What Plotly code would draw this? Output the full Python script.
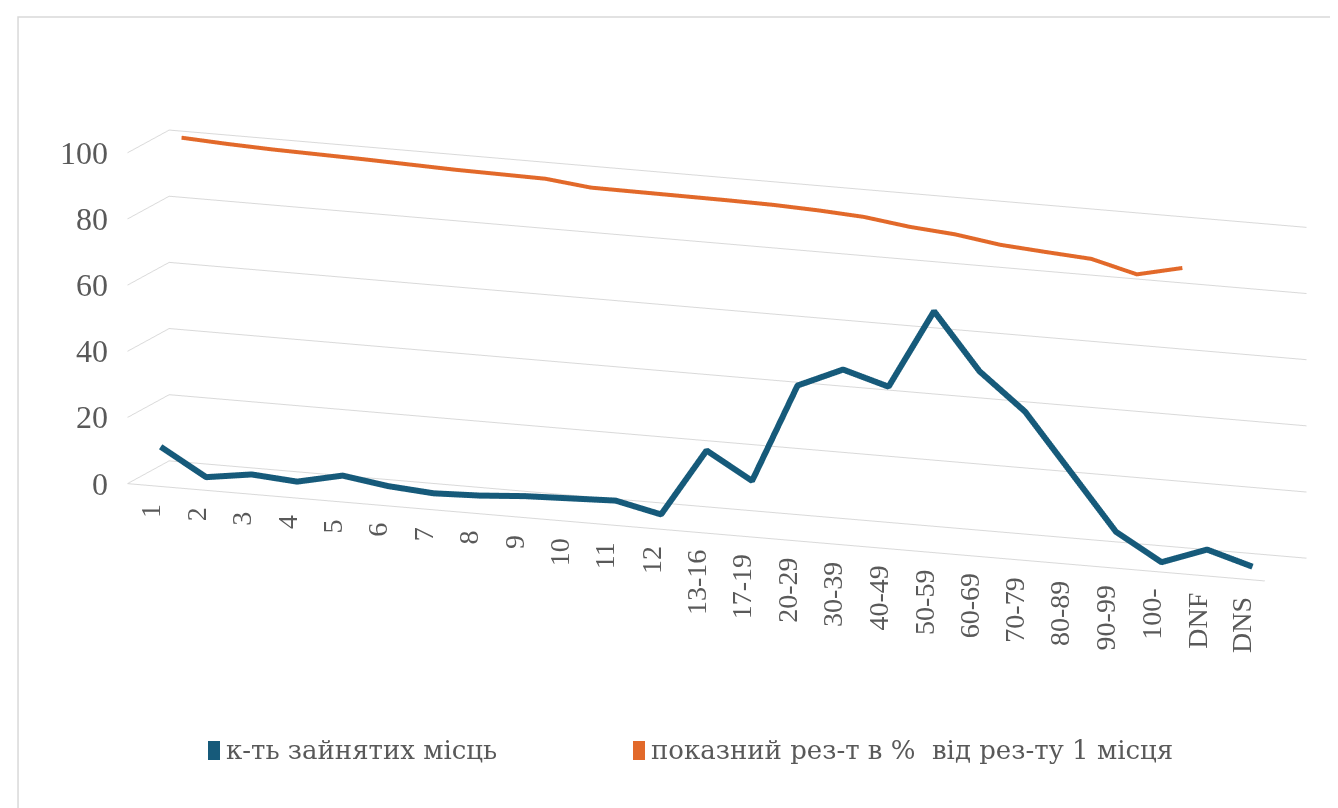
import plotly.graph_objects as go

categories = ["1", "2", "3", "4", "5", "6", "7", "8", "9", "10", "11", "12",
              "13-16", "17-19", "20-29", "30-39", "40-49", "50-59", "60-69",
              "70-79", "80-89", "90-99", "100-", "DNF", "DNS"]
places_count = [10, 2, 4, 3, 6, 4, 3, 3.5, 4.5, 5, 5.5, 2.5, 23, 15, 45, 51, 47,
                71, 54, 43, 26, 9, 1, 6, 2]
result_pct = [100, 99.3, 98.8, 98.5, 98.2, 97.8, 97.4, 97.2, 97.0, 95.5, 95.4,
              95.3, 95.2, 95.0, 94.5, 93.7, 91.9, 90.8, 88.8, 87.8, 86.9, 83.4, 86.5]
series_names = ["к-ть зайнятих місць", "показний рез-т в %  від рез-ту 1 місця"]
y_ticks = [0, 20, 40, 60, 80, 100]

BLUE = "#165a7a"
ORANGE = "#e2692a"
GRID = "#d9d9d9"
TXT = "#595959"
FONT = "Liberation Serif"
CYR_FONT = "DejaVu Serif"
COLORS = [BLUE, ORANGE]

idx = list(range(len(categories)))
fig = go.Figure()
fig.add_trace(go.Scatter3d(x=idx, y=[0] * len(idx), z=places_count, mode="lines",
                           line=dict(color=BLUE, width=12), showlegend=False,
                           name=series_names[0]))
fig.add_trace(go.Scatter3d(x=idx[:len(result_pct)], y=[1] * len(result_pct), z=result_pct,
                           mode="lines", line=dict(color=ORANGE, width=8),
                           showlegend=False, name=series_names[1]))

scene_ann = [dict(x=i, y=-0.5, z=0, text=c, showarrow=False, textangle=-90,
                  xanchor="center", yanchor="top", yshift=-16,
                  font=dict(family=FONT, size=28, color=TXT))
             for i, c in zip(idx, categories)]
scene_ann += [dict(x=-0.5, y=-0.5, z=v, text=str(v), showarrow=False,
                   xanchor="right", yanchor="middle", xshift=-18,
                   font=dict(family=FONT, size=32, color=TXT))
              for v in y_ticks]

# legend (swatch + label) at the bottom
W, H = 1338, 808
legend_pos = [(200, 216), (625, 641)]  # swatch left px, text left px
shapes = [dict(type="rect", xref="paper", yref="paper", x0=0.0075, x1=0.994,
               y0=0.004, y1=0.989, line=dict(color=GRID, width=1.5))]
paper_ann = []
for (sx, tx), nm, col in zip(legend_pos, series_names, COLORS):
    shapes.append(dict(type="rect", xref="paper", yref="paper",
                       x0=sx / W, x1=(sx + 12) / W, y0=1 - 752 / H, y1=1 - 733 / H,
                       fillcolor=col, line=dict(width=0)))
    paper_ann.append(dict(xref="paper", yref="paper", x=tx / W, y=1 - 742 / H,
                          xanchor="left", yanchor="middle", showarrow=False,
                          text=nm, font=dict(family=CYR_FONT, size=26, color=TXT)))

r = 3.16
eye = dict(x=0.359 * r, y=-0.907 * r, z=0.216 * r)

axis_common = dict(showbackground=False, showspikes=False, zeroline=False, title="")
fig.update_layout(
    width=W, height=H,
    margin=dict(l=0, r=0, t=0, b=0),
    paper_bgcolor="white",
    showlegend=False,
    font=dict(family=FONT, color=TXT),
    scene=dict(
        domain=dict(x=[0.06, 1.0], y=[0.14, 1.0]),
        xaxis=dict(range=[-0.5, len(categories) - 0.5], showgrid=False, showline=True,
                   linecolor=GRID, linewidth=2, showticklabels=False, ticks="",
                   **axis_common),
        yaxis=dict(range=[-0.5, 1.5], showgrid=False, showline=False,
                   showticklabels=False, ticks="", **axis_common),
        zaxis=dict(range=[0, 100], tickvals=y_ticks, showgrid=True, gridcolor=GRID,
                   gridwidth=2, showline=False, ticks="", showticklabels=False,
                   **axis_common),
        aspectmode="manual",
        aspectratio=dict(x=3.52, y=0.326, z=0.975),
        camera=dict(eye=eye, center=dict(x=0, y=0, z=0),
                    projection=dict(type="orthographic")),
        annotations=scene_ann,
    ),
    annotations=paper_ann,
    shapes=shapes,
)
fig.write_html("out.html")
